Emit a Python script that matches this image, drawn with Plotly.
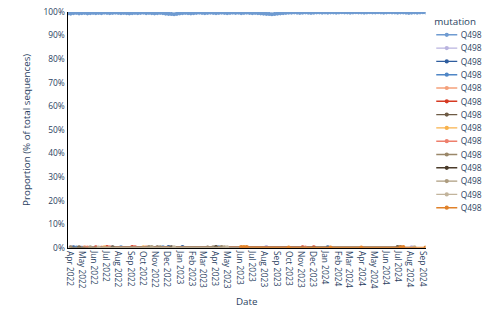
import pandas as pd
import plotly.graph_objects as go

# ---- data ----
week_start = "2022-03-28"
n_weeks = 129
dates = pd.date_range(week_start, periods=n_weeks, freq="7D")
x_range = ["2022-03-28", "2024-09-09"]

dominant_name = "Q498R (Omicron lineage)"
dominant_vals = [
    0.994, 0.993, 0.995, 0.996, 0.994, 0.995, 0.996, 0.994, 0.995, 0.996,
    0.995, 0.996, 0.995, 0.997, 0.996, 0.995, 0.996, 0.997, 0.996, 0.995,
    0.996, 0.995, 0.994, 0.995, 0.996, 0.995, 0.996, 0.997, 0.995, 0.996,
    0.995, 0.994, 0.995, 0.996, 0.995, 0.993, 0.992, 0.991, 0.990, 0.992,
    0.994, 0.995, 0.996, 0.995, 0.994, 0.995, 0.996, 0.997, 0.996, 0.995,
    0.996, 0.997, 0.996, 0.995, 0.996, 0.997, 0.996, 0.995, 0.996, 0.997,
    0.996, 0.997, 0.995, 0.996, 0.997, 0.996, 0.995, 0.996, 0.995, 0.994,
    0.993, 0.992, 0.991, 0.990, 0.991, 0.993, 0.994, 0.995, 0.996, 0.997,
    0.997, 0.998, 0.997, 0.996, 0.997, 0.998, 0.997, 0.996, 0.997, 0.998,
    0.998, 0.997, 0.998, 0.997, 0.998, 0.998, 0.997, 0.998, 0.999, 0.998,
    0.998, 0.997, 0.998, 0.999, 0.998, 0.998, 0.997, 0.998, 0.999, 0.998,
    0.998, 0.999, 0.998, 0.997, 0.998, 0.999, 0.998, 0.998, 0.997, 0.998,
    0.998, 0.997, 0.996, 0.997, 0.998, 0.997, 0.998, 0.999, 0.998,
]

minor_names = [
    "Q498H (minor variant)", "Q498Y (minor variant)", "Q498L (minor variant)",
    "Q498P (minor variant)", "Q498K (minor variant)", "Q498E (minor variant)",
    "Q498S (minor variant)", "Q498V (minor variant)", "Q498T (minor variant)",
    "Q498A (minor variant)", "Q498G (minor variant)", "Q498N (minor variant)",
    "Q498Q (reference)",
]
minor_dates = [
    ["2022-04-04", "2022-05-02", "2023-08-07", "2024-08-05"],
    ["2022-04-11", "2022-12-05", "2023-01-09", "2024-01-08"],
    ["2022-04-18", "2022-08-08", "2022-11-21", "2023-04-10"],
    ["2022-05-09", "2022-06-20", "2022-10-10"],
    ["2022-06-06", "2022-07-04", "2022-09-05", "2023-11-06", "2023-12-04"],
    ["2022-04-25", "2022-11-07", "2023-03-13", "2024-07-01"],
    ["2022-06-27", "2022-10-03", "2023-06-12"],
    ["2022-05-16", "2022-07-11", "2022-09-12", "2023-11-13"],
    ["2022-04-04", "2022-10-17", "2022-11-14", "2023-03-27", "2023-04-17"],
    ["2022-07-18", "2022-12-12", "2023-04-03", "2024-07-08"],
    ["2022-05-23", "2022-10-24", "2023-04-24"],
    ["2022-06-13", "2022-12-19", "2023-05-01", "2024-08-12"],
    ["2023-06-05", "2023-06-12", "2023-06-19", "2023-10-02", "2024-01-15",
     "2024-04-01", "2024-07-08", "2024-07-15", "2024-09-09"],
]
minor_vals = [
    [0.002, 0.001, 0.003, 0.002],
    [0.002, 0.003, 0.003, 0.002],
    [0.001, 0.002, 0.002, 0.002],
    [0.002, 0.001, 0.002],
    [0.002, 0.003, 0.003, 0.002, 0.002],
    [0.002, 0.002, 0.001, 0.003],
    [0.002, 0.002, 0.003],
    [0.001, 0.002, 0.003, 0.001],
    [0.002, 0.003, 0.002, 0.002, 0.003],
    [0.002, 0.002, 0.003, 0.002],
    [0.002, 0.003, 0.002],
    [0.001, 0.002, 0.002, 0.002],
    [0.003, 0.002, 0.003, 0.001, 0.001, 0.001, 0.002, 0.003, 0.001],
]

colors = [
    "#6f9bd1", "#b9b3df", "#2f5d9e", "#4f86c6", "#f4a07a", "#d63a22",
    "#6e5b45", "#f8b24c", "#ee7f6c", "#9a8769", "#4a3b2a", "#ad9c7f",
    "#c2b49c", "#e0812a",
]

# the chart is laid out at a larger size and shown scaled to 482x316
scale = 0.7
W, H = 689, 451

fig = go.Figure()
fig.add_trace(go.Scatter(
    x=dates, y=dominant_vals, name=dominant_name, mode="lines+markers",
    line=dict(color=colors[0], width=2), marker=dict(size=6, color=colors[0]),
))
for i, (nm, ds, vs) in enumerate(zip(minor_names, minor_dates, minor_vals)):
    c = colors[i + 1]
    fig.add_trace(go.Scatter(
        x=pd.to_datetime(ds), y=vs, name=nm, mode="lines+markers",
        line=dict(color=c, width=2), marker=dict(size=6, color=c),
    ))

fig.update_layout(
    template="plotly_white",
    width=W, height=H,
    margin=dict(l=97, r=81, t=17, b=97, autoexpand=False),
    font=dict(size=12, color="#2a3f5f"),
    legend=dict(title=dict(text="mutation"), x=1.02, y=1, yanchor="top"),
    showlegend=True,
)
fig.update_xaxes(
    title=dict(text="Date"),
    range=x_range, dtick="M1", tickformat="%b %Y", tickangle=90,
    showgrid=False, showline=True, linecolor="black", linewidth=2,
)
fig.update_yaxes(
    title=dict(text="Proportion (% of total sequences)"),
    range=[0, 1], dtick=0.1, tickformat=".0%",
    showgrid=False, showline=True, linecolor="black", linewidth=2,
    zeroline=False,
)

post = (
    "document.body.style.margin='0';"
    "document.body.style.overflow='hidden';"
    "var d=document.getElementById('{plot_id}');"
    "d.style.transformOrigin='0 0';"
    "d.style.transform='scale(%s)';" % scale
)
fig.write_html("out.html", post_script=post,
               config={"displayModeBar": False})
